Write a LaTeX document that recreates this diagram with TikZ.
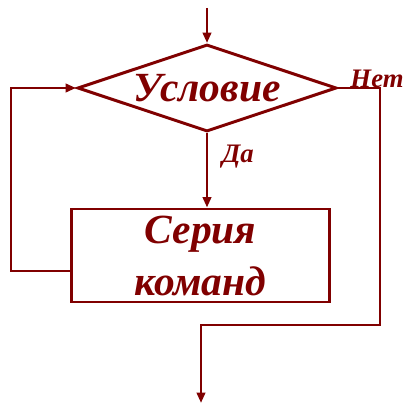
\documentclass[tikz,border=0pt]{standalone}
\usepackage{fontspec}
\setmainfont{Liberation Serif}
\usetikzlibrary{arrows.meta,shapes.geometric}
\definecolor{maroon}{HTML}{800000}
\tikzset{cond/.style={diamond,draw=maroon,line width=2.1pt,aspect=2.98,inner sep=-6pt,
  minimum width=6.475cm,minimum height=2.175cm,text=maroon,
  font=\fontsize{29.5}{31}\selectfont\bfseries\itshape},
  block/.style={rectangle,draw=maroon,line width=2.1pt,align=center,text=maroon,
  minimum width=6.425cm,minimum height=2.325cm,inner sep=0pt,
  font=\fontsize{29.5}{37}\selectfont\bfseries\itshape},
  answer/.style={text=maroon,inner sep=0pt,font=\fontsize{19}{19}\selectfont\bfseries\itshape},
  arrow/.style={-{Triangle[length=2.6mm,width=2.1mm]},line width=2.1pt,draw=maroon}}
\begin{document}
\begin{tikzpicture}[x=0.025cm,y=-0.025cm]
\useasboundingbox (0,0) rectangle (404,405);
\node[cond] (test) at (207,88) {Условие};
\node[block] (body) at (200.5,255.5) {Серия\\команд};
\node[answer] (yes) at (238,157) {Да};
\node[answer] (no) at (377,79) {Нет};
\coordinate (entry) at (207,8);
\coordinate (backlow) at (11,271);
\coordinate (backtop) at (11,88);
\coordinate (exitR) at (380,325);
\coordinate (stop) at (201,403);
\draw[arrow] (entry) -- (test.north);
\draw[arrow] (test.south) -- (test.south |- body.north);
\draw[arrow] (backlow -| body.west) -- (backlow) -- (backtop) -- (test.west);
\draw[arrow] (test.east) -- (test.east -| exitR) -- (exitR) -- (exitR -| stop) -- (stop);
\end{tikzpicture}
\end{document}
